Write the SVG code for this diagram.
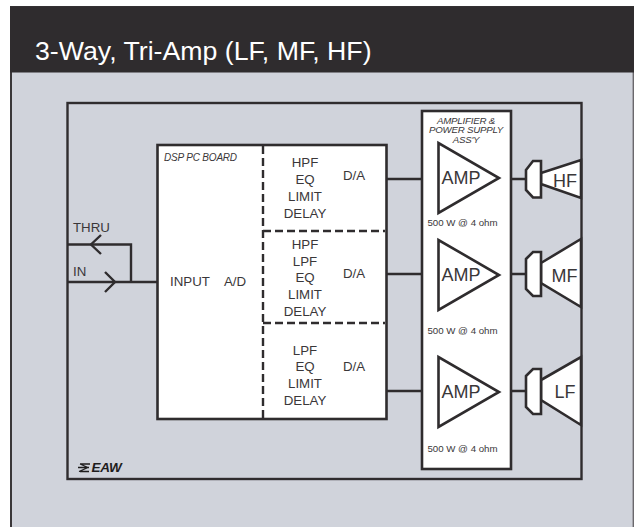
<svg xmlns="http://www.w3.org/2000/svg" width="634" height="527" viewBox="0 0 634 527">
<defs>
<style>
text{font-family:"Liberation Sans",Arial,sans-serif;fill:#3a3739}
.l{font-size:13.300px;text-anchor:middle}
.s{font-size:9.700px;text-anchor:middle}
.i{font-size:9.700px;font-style:italic;text-anchor:middle;letter-spacing:-.2px}
.a{font-size:18px;text-anchor:middle}
.w{fill:#fff;stroke:#2f2c2e;stroke-width:2.600;stroke-linejoin:miter}
.c{fill:none;stroke:#2f2c2e;stroke-width:2.400}
.d{fill:none;stroke:#2f2c2e;stroke-width:2.400;stroke-dasharray:8 4}
</style>
<g id="amp"><path class="w" d="M438.500 0V70L499 35Z"/><text class="a" x="461" y="41">AMP</text></g>
</defs>
<g id="panel">
<rect x="11" y="7" width="640" height="540" fill="#d0d3db" stroke="#3a3739" stroke-width="2"/>
<rect x="632.600" y="70" width="1.400" height="457" fill="#6a686c"/>
<rect x="10" y="6.500" width="624" height="66" fill="#2f2c2e"/>
<text x="35" y="60" font-size="26.700" style="fill:#fff">3-Way, Tri-Amp (LF, MF, HF)</text>
</g>
<g id="enclosure"><rect x="67.500" y="103" width="514" height="376" fill="none" stroke="#2f2c2e" stroke-width="2.400"/></g>
<g id="connectors">
<path class="c" d="M68 244.500H131V282M68 282H157M387 179H422M387 274H422M387 391H422M511 179H526M511 274H526M511 391H526"/>
<path class="c" d="M101 235L91 244.500L101 254M105 272L115 282L105 292"/>
</g>
<g id="dsp-board">
<rect class="w" x="157.500" y="145" width="229" height="274"/>
<path class="d" d="M263 146V419M263 231H385M263 323H385"/>
<text class="i" x="200.500" y="161" style="font-size:10px">DSP PC BOARD</text>
<text class="l" x="190" y="285.500">INPUT</text><text class="l" x="235" y="285.500">A/D</text>
<text class="l" x="305" y="167">HPF</text><text class="l" x="305" y="184">EQ</text><text class="l" x="305" y="201">LIMIT</text><text class="l" x="305" y="218">DELAY</text>
<text class="l" x="354" y="180">D/A</text>
<text class="l" x="305" y="249">HPF</text><text class="l" x="305" y="266">LPF</text><text class="l" x="305" y="282">EQ</text><text class="l" x="305" y="299">LIMIT</text><text class="l" x="305" y="316">DELAY</text>
<text class="l" x="354" y="278">D/A</text>
<text class="l" x="305" y="355">LPF</text><text class="l" x="305" y="371">EQ</text><text class="l" x="305" y="388">LIMIT</text><text class="l" x="305" y="405">DELAY</text>
<text class="l" x="354" y="371">D/A</text>
</g>
<g id="amp-assembly">
<rect class="w" x="422" y="111" width="89" height="358"/>
<text class="i" x="466" y="123.500">AMPLIFIER &amp;</text><text class="i" x="466" y="133">POWER SUPPLY</text><text class="i" x="466" y="142.500">ASS'Y</text>
<use href="#amp" y="143"/><use href="#amp" y="240"/><use href="#amp" y="357"/>
<text class="s" x="462.500" y="226">500 W @ 4 ohm</text><text class="s" x="462.500" y="334">500 W @ 4 ohm</text><text class="s" x="462.500" y="452">500 W @ 4 ohm</text>
</g>
<g id="hf">
<path class="w" d="M541 173L581 160V198L541 184Z"/>
<path class="w" d="M526 170L533 161H541V197.500H533L526 190Z"/>
<text class="a" x="565" y="187">HF</text>
</g>
<g id="mf">
<path class="w" d="M541 263L581 239V307L541 283Z"/>
<path class="w" d="M526 259L533 252H541V296H533L526 289Z"/>
<text class="a" x="564.500" y="281.500">MF</text>
</g>
<g id="lf">
<path class="w" d="M541 380L581 357V425L541 400Z"/>
<path class="w" d="M526 376L533 369H541V414H533L526 407Z"/>
<text class="a" x="565" y="398">LF</text>
</g>
<g id="io-labels">
<text x="73" y="232" font-size="13.300">THRU</text>
<text x="73" y="275.500" font-size="13.300">IN</text>
</g>
<g id="logo">
<path d="M80 464H90M80 464L88 467.500M78 467.500H89M80 471.500H89M79 471.500L88 467.500" fill="none" stroke="#1f1d1e" stroke-width="1.300"/>
<text x="91.500" y="472" font-size="13.500" font-weight="bold" font-style="italic" letter-spacing="-.2" style="fill:#1f1d1e">EAW</text>
</g>
</svg>
